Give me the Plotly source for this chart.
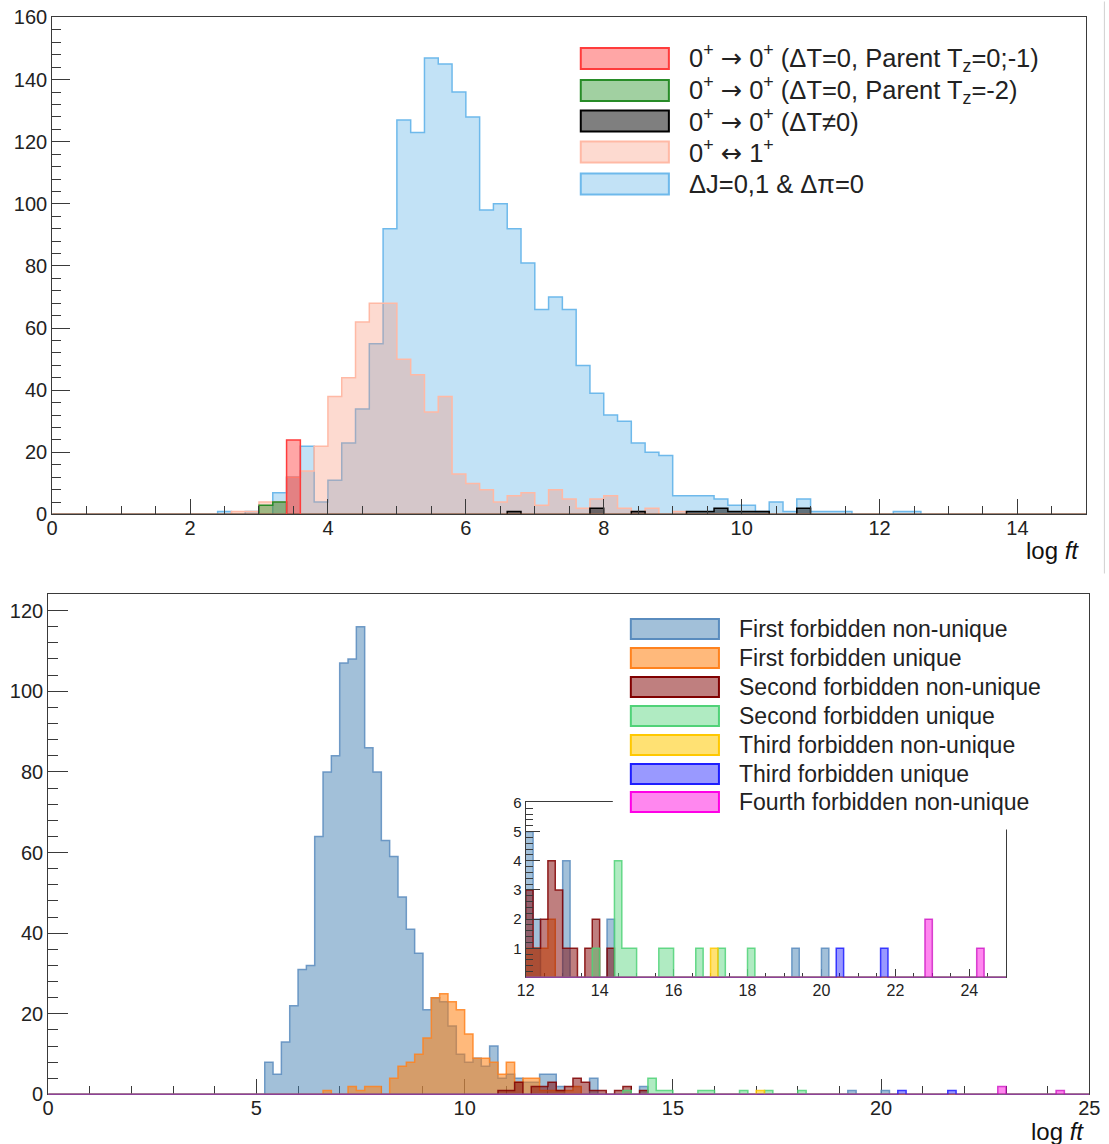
import numpy as np
import plotly.graph_objects as go

W, H = 1109, 1144          # target picture size
# empirical mapping of the page: picture = OFF + SC * figure coordinate
OFFX, OFFY, SC = 8.9, 9.5, 0.981
FW = int(round((W - OFFX) / SC))
FH = int(round((H - OFFY) / SC))
BIN = 0.2

# ---------------- top panel data (log ft, 0.2 wide bins, 0-15) ----------------
top_xmax = 15
ARW = '<span style="font-family:DejaVu Sans">→</span>'
LRA = '<span style="font-family:DejaVu Sans">↔</span>'
top_names = ["0<sup>+</sup> " + ARW + " 0<sup>+</sup> (ΔT=0, Parent T<sub>z</sub>=0;-1)",
             "0<sup>+</sup> " + ARW + " 0<sup>+</sup> (ΔT=0, Parent T<sub>z</sub>=-2)",
             "0<sup>+</sup> " + ARW + " 0<sup>+</sup> (ΔT≠0)",
             "0<sup>+</sup> " + LRA + " 1<sup>+</sup>",
             "ΔJ=0,1 &amp; Δπ=0"]
red_start = 3.4
red_counts = [24]
green_start = 3.0
green_counts = [3, 4]
black_start = 6.6
black_counts = [1, 0, 0, 0, 0, 0, 2, 0, 0, 1, 0, 0, 0, 1, 1, 2, 1, 1, 1, 0, 0, 2]
salmon_start = 2.6
salmon_counts = [1, 1, 4, 4, 12, 14, 22, 38, 44, 62, 68, 68, 50, 45, 33, 38, 13, 10,
                 8, 4, 6, 7, 3, 8, 5, 2, 5, 6, 2, 1, 2, 0, 1]
gt_start = 2.4
gt_counts = [1, 0, 1, 0, 7, 12, 22, 4, 11, 23, 34, 55, 92, 127, 123, 147, 145, 136,
             128, 98, 100, 92, 81, 66, 70, 66, 48, 39, 32, 30, 23, 20, 19, 6, 6, 6,
             5, 3, 3, 1, 4, 1, 5, 1, 1, 1, 0, 0, 0, 1, 1]

# ---------------- bottom panel data (log ft, 0.2 wide bins, 0-25) ----------------
bot_xmax = 25
bot_names = ["First forbidden non-unique", "First forbidden unique",
             "Second forbidden non-unique", "Second forbidden unique",
             "Third forbidden non-unique", "Third forbidden unique",
             "Fourth forbidden non-unique"]
ffnu_start = 5.2
ffnu_counts = [8, 5, 13, 22, 31, 32, 64, 80, 84, 107, 108, 116, 86, 80, 63, 59, 49, 41,
               35, 21, 24, 23, 17, 10, 8, 9, 7, 12, 4, 5, 4, 3, 3, 5, 5, 2, 0, 0, 0, 4,
               0, 0, 0, 0, 0, 2]
ffnu_tail_bins = [19.2, 20.0]
ffnu_tail_counts = [1, 1]
ffu_start = 6.6
ffu_counts = [1, 0, 0, 2, 1, 2, 2, 0, 4, 7, 8, 10, 14, 24, 25, 23, 21, 15, 9, 9, 8, 5,
              8, 3, 4, 4, 1, 1, 1, 1, 2]
sfnu_start = 10.8
sfnu_counts = [1, 1, 3, 0, 2, 2, 3, 1, 2, 4, 3, 1, 1, 0, 1, 2, 0, 1]
sfu_start = 13.8
sfu_counts = [1, 0, 0, 4, 1, 1, 0, 0, 0, 1, 1, 0, 0, 0, 1, 0, 0, 1, 0, 0, 0, 1]
tfnu_bins = [17.0]
tfnu_counts = [1]
tfu_bins = [20.4, 21.6]
tfu_counts = [1, 1]
fourth_bins = [22.8, 24.2]
fourth_counts = [2, 1]


def px(x):
    return ((x - OFFX) / SC) / FW


def py(y):
    return 1 - ((y - OFFY) / SC) / FH


def full_counts(xmax, start=None, counts=(), bins=(), bcounts=()):
    n = int(round(xmax / BIN))
    arr = np.zeros(n)
    if start is not None:
        i0 = int(round(start / BIN))
        arr[i0:i0 + len(counts)] = counts
    for b, c in zip(bins, bcounts):
        arr[int(round(b / BIN))] = c
    return arr


def step_trace(arr, line, fill, xa, ya, width=1.5):
    n = len(arr)
    edges = BIN * np.arange(n + 1)
    x = np.concatenate([[edges[0]], edges])
    y = np.concatenate([[0], arr, [0]])
    return go.Scatter(x=x, y=y, mode="lines",
                      line=dict(shape="hv", color=line, width=width),
                      fill="tozeroy", fillcolor=fill, xaxis=xa, yaxis=ya,
                      hoverinfo="skip", showlegend=False)


fig = go.Figure()

top_styles = [("rgba(255,0,0,0.35)", "rgb(255,60,60)"),
              ("rgba(0,128,0,0.37)", "rgb(40,140,40)"),
              ("rgba(0,0,0,0.5)", "rgb(0,0,0)"),
              ("rgba(250,150,120,0.35)", "rgb(255,185,165)"),
              ("rgba(120,190,235,0.45)", "rgb(110,185,235)")]
top_data = [full_counts(top_xmax, red_start, red_counts),
            full_counts(top_xmax, green_start, green_counts),
            full_counts(top_xmax, black_start, black_counts),
            full_counts(top_xmax, salmon_start, salmon_counts),
            full_counts(top_xmax, gt_start, gt_counts)]
for i in [4, 3, 2, 1, 0]:
    fig.add_trace(step_trace(top_data[i], top_styles[i][1], top_styles[i][0], "x", "y"))

bot_styles = [("rgba(70,130,180,0.5)", "rgba(90,140,190,0.85)"),
              ("rgba(255,127,14,0.55)", "rgba(255,130,30,0.85)"),
              ("rgba(128,0,0,0.5)", "rgba(128,0,0,0.85)"),
              ("rgba(80,210,120,0.45)", "rgba(80,210,120,0.85)"),
              ("rgba(255,200,0,0.55)", "rgba(255,200,0,0.85)"),
              ("rgba(0,0,255,0.4)", "rgba(30,30,255,0.85)"),
              ("rgba(255,0,220,0.47)", "rgba(200,0,190,0.7)")]
bot_legend_line = ["rgb(90,140,190)", "rgb(255,130,30)", "rgb(128,0,0)",
                   "rgb(80,210,120)", "rgb(255,200,0)", "rgb(30,30,255)", "rgb(255,0,230)"]
bot_data = [full_counts(bot_xmax, ffnu_start, ffnu_counts, ffnu_tail_bins, ffnu_tail_counts),
            full_counts(bot_xmax, ffu_start, ffu_counts),
            full_counts(bot_xmax, sfnu_start, sfnu_counts),
            full_counts(bot_xmax, sfu_start, sfu_counts),
            full_counts(bot_xmax, None, (), tfnu_bins, tfnu_counts),
            full_counts(bot_xmax, None, (), tfu_bins, tfu_counts),
            full_counts(bot_xmax, None, (), fourth_bins, fourth_counts)]
for xa, ya in [("x2", "y2"), ("x3", "y3")]:
    for i in range(7):
        fig.add_trace(step_trace(bot_data[i], bot_styles[i][1], bot_styles[i][0], xa, ya))

AX = "#3a3a3a"
FONT = "Liberation Sans, Arial, Helvetica, sans-serif"


def axis(domain, rng, dtick, mdtick, tl, mtl, fs, anchor, layer="above traces",
         tickvals=None, standoff=0):
    d = dict(domain=domain, range=rng, anchor=anchor, showline=True, linecolor=AX,
             linewidth=1, mirror=True, ticks="inside", ticklen=tl, tickwidth=1,
             tickcolor=AX, dtick=dtick, tick0=0, showgrid=False, zeroline=False,
             tickfont=dict(size=fs, family=FONT, color="#222"), layer=layer,
             ticklabelstandoff=standoff,
             minor=dict(ticks="inside", ticklen=mtl, dtick=mdtick, tick0=0,
                        tickcolor=AX, tickwidth=1, showgrid=False))
    if tickvals is not None:
        d["tickmode"] = "array"
        d["tickvals"] = tickvals
    return d


fig.update_layout(
    width=FW, height=FH, margin=dict(l=0, r=0, t=0, b=0),
    plot_bgcolor="white", paper_bgcolor="white", showlegend=False,
    font=dict(family=FONT, color="#222"),
    xaxis=axis([px(52), px(1085)], [0, 15], 2, 0.5, 15, 8, 20, "y", standoff=-4),
    yaxis=axis([py(513), py(16)], [0, 160], 20, 4, 18, 9, 20, "x"),
    xaxis2=axis([px(48), px(1088)], [0, 25], 5, 1, 15, 8, 20, "y2", "below traces",
                standoff=-4),
    yaxis2=axis([py(1093), py(593)], [0, 124], 20, 4, 20, 10, 20, "x2"),
    xaxis3=axis([px(525), px(1005)], [12, 25], 2, 0.5, 8, 4, 16, "y3", "below traces",
                standoff=-2),
    yaxis3=axis([py(976), py(801)], [0, 6], 1, 0.2, 14, 7, 15, "x3",
                tickvals=[1, 2, 3, 4, 5, 6]),
)

shapes = []
annots = []
# thin border line at the right of the upper figure (as in the source image)
shapes.append(dict(type="line", xref="paper", yref="paper", layer="above",
                   x0=px(1103), x1=px(1103), y0=py(572), y1=py(0),
                   line=dict(color="#d0d0d0", width=1)))
# top legend
top_rows = [57, 89, 119.5, 150.5, 182.5]
for i, yc in enumerate(top_rows):
    shapes.append(dict(type="rect", xref="paper", yref="paper", layer="above",
                       x0=px(580), x1=px(668), y0=py(yc + 10.5), y1=py(yc - 10.5),
                       fillcolor=top_styles[i][0], line=dict(color=top_styles[i][1], width=2)))
    annots.append(dict(xref="paper", yref="paper", x=px(686), y=py(yc), xanchor="left",
                       yanchor="middle", text=top_names[i], showarrow=False,
                       font=dict(size=25.5, family=FONT, color="#222")))
# bottom legend with white box
shapes.append(dict(type="rect", xref="paper", yref="paper", layer="above",
                   x0=px(612), x1=px(1045), y0=py(828), y1=py(603),
                   fillcolor="white", line=dict(width=0)))
bot_rows = [627.5, 656.5, 685.5, 714.5, 743.5, 772.5, 800.5]
for i, yc in enumerate(bot_rows):
    shapes.append(dict(type="rect", xref="paper", yref="paper", layer="above",
                       x0=px(630), x1=px(718), y0=py(yc + 10), y1=py(yc - 10),
                       fillcolor=bot_styles[i][0], line=dict(color=bot_legend_line[i], width=2)))
    annots.append(dict(xref="paper", yref="paper", x=px(736), y=py(yc), xanchor="left",
                       yanchor="middle", text=bot_names[i], showarrow=False,
                       font=dict(size=23, family=FONT, color="#222")))
# axis titles
annots.append(dict(xref="paper", yref="paper", x=px(1080), y=py(549), xanchor="right",
                   yanchor="middle", text="log <i>ft</i>", showarrow=False,
                   font=dict(size=24, family=FONT, color="#111")))
annots.append(dict(xref="paper", yref="paper", x=px(1085), y=py(1130), xanchor="right",
                   yanchor="middle", text="log <i>ft</i>", showarrow=False,
                   font=dict(size=24, family=FONT, color="#111")))
fig.update_layout(shapes=shapes, annotations=annots)

fig.write_html("out.html")
